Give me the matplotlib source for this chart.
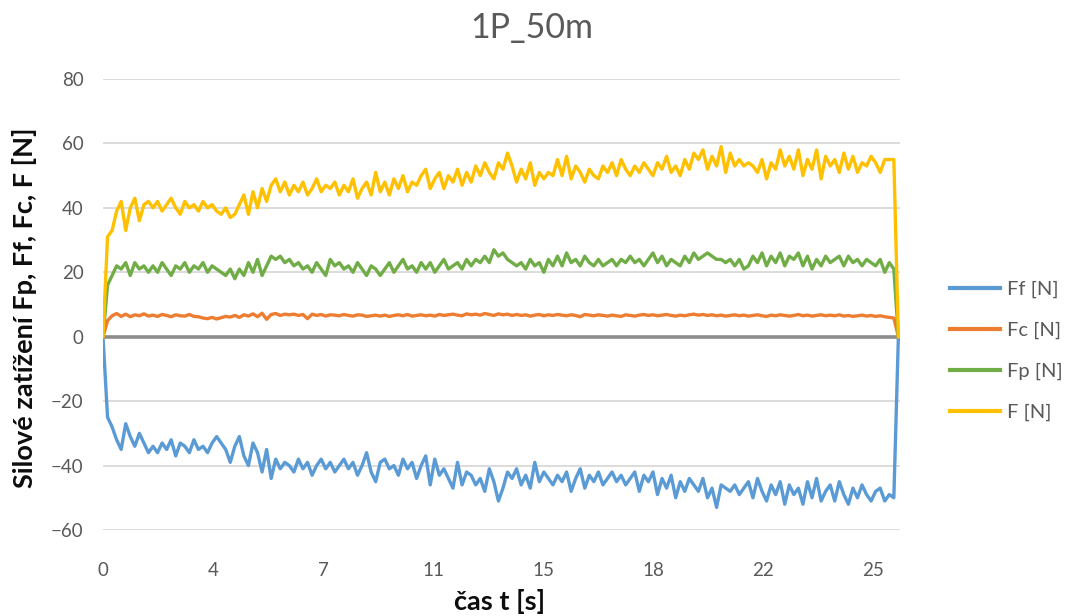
import numpy as np
import matplotlib
matplotlib.use("Agg")
import matplotlib.pyplot as plt

plt.rcParams['font.family'] = ['Lato', 'DejaVu Sans']

title = "1P_50m"
series_names = ["Ff [N]", "Fc [N]", "Fp [N]", "F [N]"]
series_colors = ["#5B9BD5", "#ED7D31", "#70AD47", "#FFC000"]
tick_labels = ["0", "4", "7", "11", "15", "18", "22", "25"]
tick_step = 3.63          # seconds between labelled categories
dt = 0.15                 # sampling interval [s]

F = [0,
     31, 33, 39, 42, 33, 40, 43, 36, 41, 42,
     40, 42, 39, 41, 43, 40, 38, 42, 40, 41,
     39, 42, 40, 41, 39, 38, 40, 37, 38, 41,
     44, 38, 45, 40, 46, 42, 47, 49, 45, 48,
     44, 47, 45, 48, 44, 46, 49, 45, 47, 46,
     48, 44, 47, 45, 49, 43, 46, 48, 44, 51,
     45, 48, 44, 49, 46, 50, 45, 48, 47, 50,
     52, 46, 49, 51, 46, 50, 48, 52, 47, 51,
     48, 53, 50, 54, 51, 49, 54, 52, 57, 53,
     48, 52, 49, 54, 47, 51, 49, 51, 50, 55,
     50, 56, 49, 53, 51, 48, 52, 50, 49, 53,
     51, 54, 50, 55, 52, 50, 53, 51, 54, 52,
     50, 54, 52, 56, 51, 53, 50, 55, 52, 57,
     55, 58, 52, 56, 53, 59, 51, 57, 53, 55,
     53, 54, 53, 51, 55, 49, 54, 52, 58, 53,
     56, 52, 58, 50, 55, 52, 58, 49, 56, 53,
     55, 51, 57, 52, 56, 51, 54, 53, 56, 54,
     51, 55, 55, 55,
     0]

Fp = [0,
      16, 19, 22, 21, 23, 19, 23, 21, 22, 20,
      22, 20, 23, 21, 19, 22, 21, 23, 20, 22,
      21, 23, 20, 22, 21, 20, 19, 21, 18, 21,
      19, 23, 20, 24, 19, 22, 25, 24, 25, 23,
      24, 22, 23, 21, 22, 20, 23, 21, 19, 24,
      22, 23, 21, 22, 20, 23, 21, 19, 22, 21,
      19, 21, 23, 20, 22, 24, 21, 22, 20, 23,
      21, 23, 20, 22, 24, 21, 22, 23, 21, 24,
      22, 24, 23, 25, 23, 27, 25, 26, 24, 23,
      22, 23, 21, 24, 22, 23, 20, 24, 22, 25,
      22, 26, 23, 24, 22, 25, 23, 22, 24, 22,
      23, 24, 22, 24, 23, 25, 23, 24, 22, 24,
      26, 23, 25, 22, 24, 23, 22, 25, 23, 26,
      24, 25, 26, 25, 24, 24, 23, 24, 22, 24,
      21, 22, 25, 23, 26, 22, 25, 23, 26, 22,
      25, 24, 26, 22, 25, 21, 24, 22, 25, 23,
      24, 25, 22, 25, 23, 24, 22, 24, 23, 22,
      24, 20, 23, 21,
      0]

Fc = [0,
      5.0, 6.5, 7.2, 6.3, 7.0, 6.2, 6.8, 6.5, 7.1, 6.4,
      6.7, 6.3, 6.9, 6.6, 6.2, 6.8, 6.5, 6.4, 6.9, 6.3,
      6.2, 5.8, 5.6, 6.0, 5.5, 5.9, 6.3, 6.1, 6.6, 6.0,
      6.8, 6.4, 7.1, 6.2, 7.3, 5.4, 6.9, 7.2, 6.6, 7.0,
      6.8, 7.0, 6.6, 6.9, 5.6, 7.0, 6.6, 6.9, 6.4, 6.8,
      6.7, 6.5, 6.9, 6.6, 6.4, 6.8, 6.7, 6.3, 6.5, 6.7,
      6.4, 6.7, 6.3, 6.6, 6.8, 6.5, 6.9, 6.4, 6.6, 6.8,
      6.5, 6.7, 6.4, 6.9, 6.6, 6.8, 7.0, 6.7, 6.5, 7.1,
      6.8, 7.0, 6.7, 7.2, 6.9, 6.6, 7.1, 6.8, 7.0, 6.6,
      6.9, 6.6, 6.8, 6.4, 6.7, 6.9, 6.5, 6.8, 6.6, 6.9,
      6.7, 6.5, 6.8, 6.6, 6.2, 6.9, 6.7, 6.5, 6.8, 6.6,
      6.4, 6.7, 6.5, 6.3, 6.8, 6.6, 6.4, 6.7, 6.9, 6.6,
      6.8, 6.5, 6.7, 6.9, 6.6, 6.4, 6.7, 6.5, 6.8, 7.0,
      6.7, 6.9, 6.6, 6.8, 6.5, 6.7, 6.4, 6.6, 6.8, 6.5,
      6.7, 6.4, 6.6, 6.8, 6.5, 6.3, 6.7, 6.5, 6.8, 6.6,
      6.4, 6.6, 6.9, 6.5, 6.7, 6.4, 6.6, 6.8, 6.5, 6.7,
      6.5, 6.8, 6.4, 6.6, 6.3, 6.5, 6.7, 6.4, 6.6, 6.3,
      6.5, 6.2, 6.0, 5.8,
      0]

Ff = [0,
      -25, -28, -32, -35, -27, -31, -34, -30, -33, -36,
      -34, -36, -33, -35, -32, -37, -33, -34, -36, -32,
      -35, -34, -36, -33, -31, -33, -35, -39, -34, -31,
      -37, -40, -33, -36, -42, -35, -44, -38, -41, -39,
      -40, -42, -38, -41, -39, -43, -40, -38, -41, -39,
      -42, -40, -38, -41, -39, -43, -40, -36, -42, -45,
      -39, -38, -41, -40, -43, -38, -41, -39, -44, -40,
      -37, -46, -38, -43, -41, -44, -47, -39, -46, -42,
      -43, -46, -44, -48, -41, -45, -51, -47, -42, -44,
      -41, -46, -43, -47, -39, -45, -42, -44, -46, -43,
      -45, -42, -48, -44, -41, -47, -43, -45, -42, -46,
      -44, -42, -45, -43, -46, -44, -42, -48, -43, -45,
      -42, -49, -44, -47, -43, -50, -45, -48, -44, -46,
      -48, -44, -50, -47, -53, -46, -47, -48, -46, -49,
      -47, -45, -50, -44, -48, -51, -46, -49, -45, -52,
      -46, -49, -47, -52, -45, -50, -44, -51, -48, -46,
      -51, -45, -49, -52, -47, -50, -46, -49, -51, -48,
      -47, -51, -49, -50,
      0]

series = [Ff, Fc, Fp, F]
n = len(F)
t = np.arange(n) * dt

fig = plt.figure(figsize=(10.70, 6.16), dpi=100)
ax = fig.add_axes([103/1070, 1 - 530/616, (900-103)/1070, (530-79)/616])

for vals, name, col in zip(series, series_names, series_colors):
    ax.plot(t, vals, color=col, lw=2.4, label=name, solid_joinstyle='round', zorder=3)

ax.axhline(0, color="#8c8c8c", lw=2.6, zorder=2)

ax.set_xlim(0, (900-103)/30.3)
ax.set_ylim(-60, 80)
ax.set_yticks(np.arange(-60, 81, 20))
ax.set_xticks(np.arange(len(tick_labels)) * tick_step)
ax.set_xticklabels(tick_labels)
ax.yaxis.grid(True, color="#d9d9d9", lw=1.3)
ax.set_axisbelow(True)
for s in ax.spines.values():
    s.set_visible(False)
ax.tick_params(axis='both', length=0, labelsize=13.5, labelcolor="#595959")
ax.tick_params(axis='y', pad=14)
ax.tick_params(axis='x', pad=23)

fig.text(532/1070, 1 - 28/616, title, ha='center', va='center', fontsize=24.5, color="#595959")
fig.text(25/1070, 1 - 308/616, "Silové zatížení Fp, Ff, Fc, F [N]", rotation=90,
         ha='center', va='center', fontsize=19.5, fontweight='bold', color="#0d0d0d")
fig.text(500/1070, 1 - 601/616, "čas t [s]", ha='center', va='center',
         fontsize=19.5, fontweight='bold', color="#0d0d0d")

leg = fig.legend(loc='upper left', bbox_to_anchor=(932/1070, 1 - 263/616), frameon=False,
                 fontsize=14.5, handlelength=2.5, labelspacing=1.17, handletextpad=0.3)
for txt in leg.get_texts():
    txt.set_color("#595959")
for h in leg.legend_handles:
    h.set_linewidth(3)

fig.savefig("out.png", dpi=100)
